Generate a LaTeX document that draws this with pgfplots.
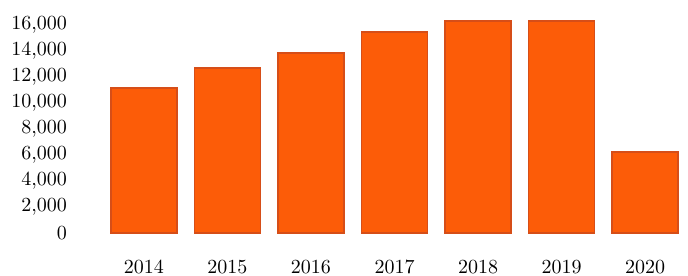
\documentclass[border=0pt]{standalone}
\usepackage{pgfplots}
\pgfplotsset{compat=1.18}
\definecolor{barfill}{RGB}{252,92,8}
\definecolor{baredge}{RGB}{214,78,24}
\begin{document}
\begin{tikzpicture}
\useasboundingbox (-51pt,-19pt) rectangle (293pt,119pt);
\begin{axis}[
  at={(0,0)}, anchor=south west,
  scale only axis,
  width=292.5pt, height=113pt,
  xmin=-0.5, xmax=6.5,
  ymin=-400, ymax=17000,
  axis line style={draw=none},
  tick style={draw=none},
  ybar, bar width=33pt,
  xtick=data,
  xticklabels={2014,2015,2016,2017,2018,2019,2020},
  ytick={0,2000,4000,6000,8000,10000,12000,14000,16000},
  scaled y ticks=false,
  /pgf/number format/assume math mode=true,
  yticklabel={\pgfmathprintnumber[fixed,precision=0,1000 sep={,}]{\tick}},
  major tick length=0pt,
  xticklabel style={yshift=-7.5pt},
  yticklabel style={anchor=east, xshift=-14pt},
  clip=false,
]
\addplot[fill=barfill, draw=baredge, line width=0.8pt] coordinates {
  (0,11150) (1,12700) (2,13850) (3,15450) (4,16300) (5,16300) (6,6230)
};
\end{axis}
\end{tikzpicture}
\end{document}
